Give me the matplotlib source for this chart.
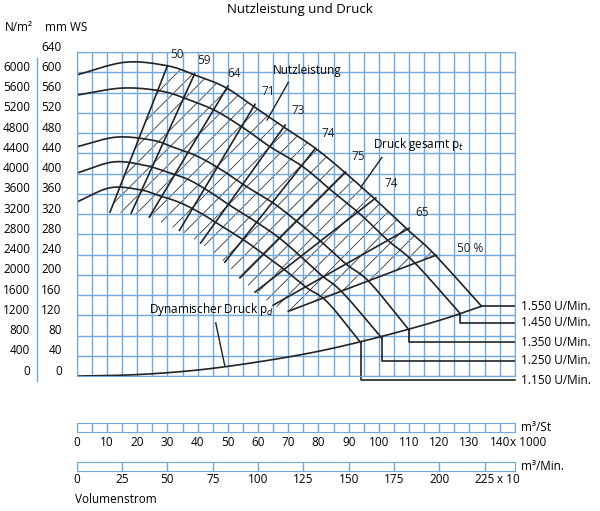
import numpy as np
import matplotlib.pyplot as plt
from matplotlib.patches import Polygon

plt.rcParams['font.family'] = ['Open Sans', 'DejaVu Sans']
plt.rcParams['hatch.linewidth'] = 0.6

# pressure curves (x: m3/St x1000, y: mm WS)
speeds = ["1.550 U/Min.", "1.450 U/Min.", "1.350 U/Min.", "1.250 U/Min.", "1.150 U/Min."]
curve_x = [
    [0, 16, 30, 39, 49, 58, 68, 79, 89, 99, 109, 118, 134],
    [0, 15, 28, 37, 46, 55, 64, 75, 84, 94, 103, 112, 127],
    [0, 13, 25, 32, 40, 48, 56, 65, 73, 81, 89, 97, 110],
    [0, 12, 22, 29, 37, 44, 51, 59, 67, 74, 81, 88, 101],
    [0, 11, 21, 27, 34, 41, 48, 55, 62, 69, 76, 83, 94],
]
curve_y = [
    [595, 620, 613, 595, 571, 535, 494, 450, 401, 348, 292, 243, 138],
    [555, 569, 563, 546, 524, 491, 453, 413, 368, 319, 268, 223, 123],
    [453, 472, 466, 452, 434, 407, 375, 342, 305, 265, 222, 185, 91],
    [401, 423, 417, 405, 388, 364, 336, 306, 273, 237, 199, 165, 75],
    [344, 372, 368, 357, 343, 322, 296, 270, 240, 209, 175, 146, 66],
]
label_y = [138, 105, 67, 30, -8]

# dynamic pressure
pd_x = [0, 20, 40, 60, 80, 100, 120, 134]
pd_y = [0, 3, 12, 28, 49, 77, 110, 138]

# efficiency lines
eff_labels = ["50", "59", "64", "71", "73", "74", "75", "74", "65", "50 %"]
eff_lo = [(11, 324), (18, 322), (24, 314), (34, 288), (41, 263), (49, 225),
          (54, 194), (59, 166), (65, 140), (70, 128)]
eff_hi = [(30, 613), (39, 597), (50, 573), (59, 537), (69, 496), (79, 450),
          (89, 403), (99, 352), (110, 292), (119, 239)]
eff_lab_pos = [(31, 636), (40, 623), (50, 597), (61, 563), (71, 524), (81, 480),
               (91, 433), (102, 380), (112, 324), (126, 253)]

mmws_ticks = list(range(0, 641, 40))
nm2_ticks = list(range(0, 6001, 400))
st_ticks = list(range(0, 141, 10))
min_ticks = list(range(0, 226, 25))


def smooth(xs, ys, n=12):
    # Catmull-Rom through the read points
    p = np.column_stack([xs, ys]).astype(float)
    p = np.vstack([2 * p[0] - p[1], p, 2 * p[-1] - p[-2]])
    out = []
    t = np.linspace(0, 1, n, endpoint=False)[:, None]
    for i in range(1, len(p) - 2):
        p0, p1, p2, p3 = p[i - 1], p[i], p[i + 1], p[i + 2]
        out.append(0.5 * (2 * p1 + (-p0 + p2) * t + (2 * p0 - 5 * p1 + 4 * p2 - p3) * t ** 2
                          + (-p0 + 3 * p1 - 3 * p2 + p3) * t ** 3))
    out.append(p[-2][None, :])
    out = np.vstack(out)
    return out[:, 0], out[:, 1]


blue = "#6fa8dc"
fig = plt.figure(figsize=(6, 5.11), dpi=100)
ax = fig.add_axes([0.128, 0.264, 0.730, 0.634])
ax.set_xlim(0, 145)
ax.set_ylim(0, 640)
ax.set_xticks(np.arange(0, 146, 5))
ax.set_yticks(np.arange(0, 641, 40))
ax.grid(True, color=blue, lw=1)
ax.tick_params(length=0, labelleft=False, labelbottom=False)
for s in ax.spines.values():
    s.set_color(blue)

for xs, ys, ly, name in zip(curve_x, curve_y, label_y, speeds):
    sx, sy = smooth(xs, ys)
    ax.plot(sx, sy, color="#222", lw=1.2)
    ax.plot([xs[-1], xs[-1], 145], [ys[-1], ly, ly], color="#222", lw=1.2, clip_on=False)
    ax.text(147, ly, name, va="center", fontsize=8.5, clip_on=False)

sx, sy = smooth(pd_x, pd_y)
ax.plot(sx, sy, color="#222", lw=1.2)

# hatched area
top_x = np.array(curve_x[0])
sel = (top_x > 30) & (top_x < 119)
poly = list(eff_lo) + [eff_hi[-1]] + [(x, y) for x, y in zip(top_x[sel][::-1], np.array(curve_y[0])[sel][::-1])] + [eff_hi[0]]
ax.add_patch(Polygon(poly, closed=True, fill=False, hatch="//", lw=0, edgecolor="#333"))

for (x0, y0), (x1, y1), lab, (tx, ty) in zip(eff_lo, eff_hi, eff_labels, eff_lab_pos):
    ax.plot([x0, x1], [y0, y1], color="#222", lw=1.2)
    ax.text(tx, ty, lab, fontsize=8.5, ha="left", va="center", color="#222")

# annotations with leaders
ax.text(65, 596, "Nutzleistung", fontsize=8.5)
ax.plot([70, 63], [580, 506], color="#222", lw=1)
ax.text(98, 450, "Druck gesamt p$_t$", fontsize=8.5)
ax.plot([101, 94], [432, 373], color="#222", lw=1)
ax.text(24, 125, "Dynamischer Druck p$_d$", fontsize=8.5)
ax.plot([46, 49], [105, 20], color="#222", lw=1)

# left labels
for v in mmws_ticks:
    ax.text(-5, v + 10, str(v), ha="right", va="center", fontsize=8.5, clip_on=False)
for v in nm2_ticks:
    ax.text(-15.5, v / 10 + 10, str(v), ha="right", va="center", fontsize=8.5, clip_on=False)
ax.plot([-13.3, -13.3], [-10, 628], color=blue, lw=1, clip_on=False)
fig.text(0.008, 0.947, "N/m²", fontsize=8.5, va="center")
fig.text(0.075, 0.947, "mm WS", fontsize=8.5, va="center")
fig.text(0.5, 0.982, "Nutzleistung und Druck", fontsize=9.5, ha="center", va="center")

# flow scales
ax1 = fig.add_axes([0.128, 0.155, 0.730, 0.018])
ax1.set_xlim(0, 145)
ax1.set_ylim(0, 1)
for x in np.arange(0, 146, 5):
    ax1.axvline(x, color=blue, lw=1)
ax1.set_xticks(st_ticks)
ax1.set_xticklabels([str(v) for v in st_ticks], fontsize=8.5)
ax1.tick_params(length=0, pad=3)
ax1.set_yticks([])
for s in ax1.spines.values():
    s.set_color(blue)
ax1.text(147, 0.5, "m³/St", va="center", fontsize=8.5)
ax1.text(143.5, -1.15, "x 1000", fontsize=8.5, va="center", ha="left")

ax2 = fig.add_axes([0.128, 0.078, 0.730, 0.018])
ax2.set_xlim(0, 145 / 0.6)
ax2.set_ylim(0, 1)
for x in min_ticks:
    ax2.axvline(x, color=blue, lw=1)
ax2.set_xticks(min_ticks)
ax2.set_xticklabels([str(v) for v in min_ticks], fontsize=8.5)
ax2.tick_params(length=0, pad=1)
ax2.set_yticks([])
for s in ax2.spines.values():
    s.set_color(blue)
ax2.text(245, 0.5, "m³/Min.", va="center", fontsize=8.5)
ax2.text(232, -0.9, "x 10", fontsize=8.5, va="center", ha="left")
fig.text(0.125, 0.022, "Volumenstrom", fontsize=8.5, va="center")

fig.savefig("out.png", dpi=100)
